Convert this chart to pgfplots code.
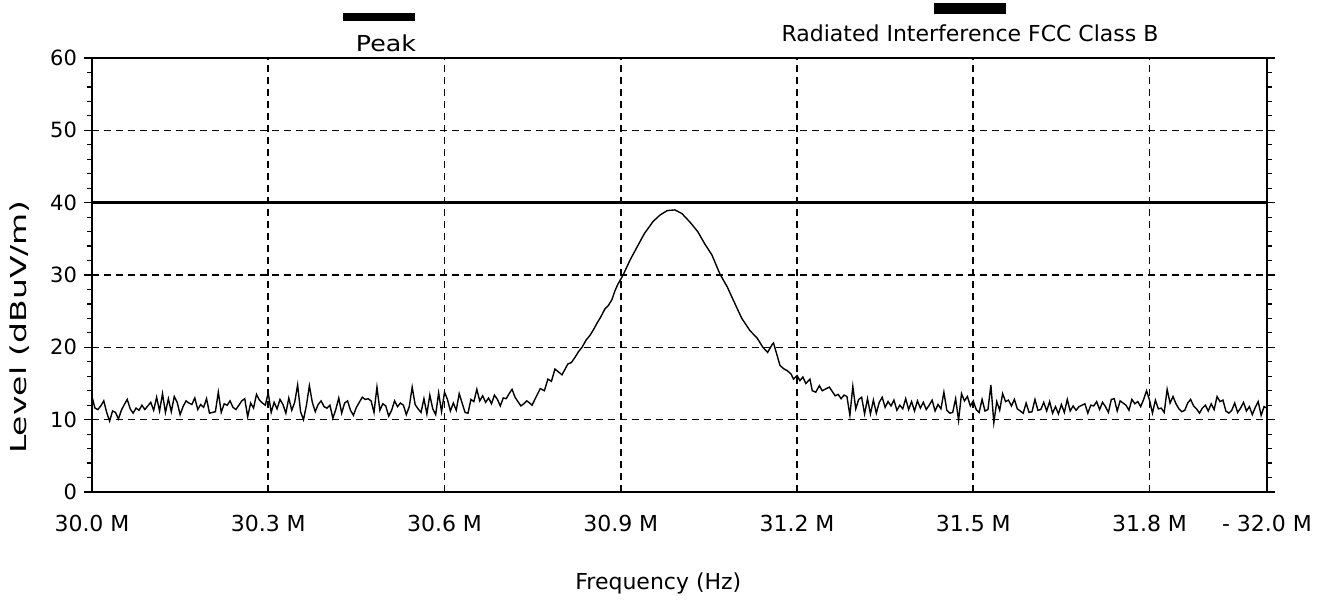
\documentclass[border=0pt]{standalone}
\usepackage{pgfplots}
\pgfplotsset{compat=1.18}
\usepackage{graphicx}
\usepackage{fontspec}
\setmainfont{DejaVu Sans}
\begin{document}
\begin{tikzpicture}
\begin{axis}[
  scale only axis, width=587.5pt, height=217pt,
  xmin=30, xmax=32, ymin=0, ymax=60,
  xtick={30,30.3,30.6,30.9,31.2,31.5,31.8,32},
  xticklabels={30.0 M,30.3 M,30.6 M,30.9 M,31.2 M,31.5 M,31.8 M,{-\ 32.0 M}},
  ytick={0,10,20,30,40,50,60},
  yticklabels={0,10,20,30,40,50,60},
  minor y tick num=4,
  tick align=outside,
  major tick length=4pt, minor tick length=2.5pt,
  xtick style={draw=none},
  tick style={black, line width=0.6pt},
  ymajorgrids, xmajorgrids,
  major grid style={black, line width=0.8pt, dash pattern=on 3.5pt off 2.5pt},
  axis line style={black, line width=1pt},
  ticklabel style={font=\fontsize{11}{13}\selectfont},
  yticklabel style={font=\fontsize{10.5}{13}\selectfont},
  xticklabel style={yshift=-4pt},
  xlabel={Frequency (Hz)},
  xlabel style={font=\fontsize{11}{13}\selectfont, at={(axis description cs:0.482,-0.21)}, anchor=center},
  ylabel={\scalebox{1.5}[1]{Level (dBuV/m)}},
  ylabel style={font=\fontsize{11}{13}\selectfont, at={(axis description cs:-0.0613,0.38)}, anchor=center},
  clip=false,
]
% limit line
\addplot[black, line width=1.8pt] coordinates {(30,40) (32,40)};
% measured trace
\addplot[black, line width=0.7pt] coordinates {
(30.000,13.2) (30.005,11.6) (30.010,11.4) (30.015,11.9) (30.020,12.6) (30.025,11.0) (30.030,9.8) (30.035,11.2) (30.040,11.0) (30.045,10.1)
(30.050,11.3) (30.055,12.1) (30.060,12.8) (30.065,11.5) (30.070,10.9) (30.075,11.6) (30.080,11.3) (30.085,12.0) (30.090,11.4) (30.095,11.9)
(30.100,12.4) (30.105,11.3) (30.110,13.1) (30.115,11.2) (30.120,13.6) (30.125,11.0) (30.130,12.9) (30.135,11.1) (30.140,13.2) (30.145,12.4)
(30.150,10.7) (30.155,11.8) (30.160,12.6) (30.165,12.3) (30.170,12.1) (30.175,13.0) (30.180,11.4) (30.185,12.1) (30.190,11.7) (30.195,12.9)
(30.200,10.9) (30.205,11.0) (30.210,11.1) (30.215,13.8) (30.220,11.0) (30.225,12.2) (30.230,12.0) (30.235,12.6) (30.240,11.7) (30.245,11.4)
(30.250,12.0) (30.255,12.6) (30.260,12.9) (30.265,10.4) (30.270,12.3) (30.275,11.6) (30.280,13.5) (30.285,12.7) (30.290,12.3) (30.295,12.0)
(30.300,13.7) (30.305,11.0) (30.310,12.4) (30.315,11.5) (30.320,12.8) (30.325,12.1) (30.330,10.9) (30.335,13.0) (30.340,11.3) (30.345,12.4)
(30.350,14.8) (30.355,11.1) (30.360,10.0) (30.365,12.0) (30.370,14.7) (30.375,12.4) (30.380,11.1) (30.385,12.1) (30.390,12.6) (30.395,11.8)
(30.400,11.6) (30.405,12.0) (30.410,10.2) (30.415,11.4) (30.420,13.0) (30.425,10.9) (30.430,12.3) (30.435,12.6) (30.440,11.3) (30.445,10.6)
(30.450,11.7) (30.455,12.4) (30.460,13.1) (30.465,12.8) (30.470,12.9) (30.475,12.6) (30.480,11.0) (30.485,14.5) (30.490,11.3) (30.495,12.2)
(30.500,11.9) (30.505,10.5) (30.510,11.3) (30.515,12.6) (30.520,11.8) (30.525,12.3) (30.530,12.0) (30.535,10.7) (30.540,11.8) (30.545,14.5)
(30.550,12.1) (30.555,11.5) (30.560,11.0) (30.565,12.9) (30.570,10.8) (30.575,13.4) (30.580,11.5) (30.585,10.7) (30.590,13.7) (30.595,11.1)
(30.600,13.8) (30.605,12.8) (30.610,11.2) (30.615,12.3) (30.620,11.3) (30.625,13.6) (30.630,12.3) (30.635,11.0) (30.640,10.9) (30.645,12.8)
(30.650,12.5) (30.655,14.2) (30.660,12.6) (30.665,13.3) (30.670,12.4) (30.675,13.0) (30.680,12.2) (30.685,13.4) (30.690,12.8) (30.695,11.9)
(30.700,13.0) (30.705,12.9) (30.710,13.6) (30.715,14.2) (30.720,13.1) (30.725,12.5) (30.730,11.9) (30.735,12.2) (30.740,12.6) (30.745,12.3)
(30.749,12.0) (30.755,13.0) (30.763,14.3) (30.770,14.0) (30.776,15.6) (30.782,15.3) (30.788,17.0) (30.794,16.6) (30.800,16.2) (30.806,17.1)
(30.810,17.7) (30.816,17.9) (30.822,18.6) (30.828,19.4) (30.834,20.0) (30.841,21.0) (30.848,21.7) (30.854,22.5) (30.860,23.4) (30.866,24.2)
(30.873,25.3) (30.879,25.8) (30.885,26.6) (30.890,27.8) (30.895,28.7) (30.904,30.0) (30.916,32.1) (30.928,33.9) (30.940,35.7) (30.955,37.4)
(30.967,38.3) (30.979,38.9) (30.992,39.0) (31.004,38.5) (31.018,37.3) (31.031,36.0) (31.043,34.3) (31.055,32.8) (31.069,30.1) (31.081,28.4)
(31.094,26.1) (31.106,24.0) (31.120,22.3) (31.132,21.3) (31.142,20.0) (31.150,19.3) (31.157,20.3) (31.160,20.6) (31.165,19.2) (31.171,17.5)
(31.178,17.0) (31.183,16.8) (31.190,16.3) (31.194,15.6) (31.200,16.1) (31.205,15.4) (31.210,15.9) (31.215,15.0) (31.222,15.6) (31.226,14.0)
(31.232,13.8) (31.238,14.7) (31.243,14.0) (31.250,14.3)
(31.255,14.5) (31.260,13.9) (31.265,13.3) (31.270,13.5) (31.275,12.9) (31.280,13.4) (31.285,13.2) (31.290,10.6) (31.295,14.6) (31.300,11.5)
(31.305,12.8) (31.310,13.1) (31.315,10.8) (31.320,12.9) (31.325,10.8) (31.330,12.7) (31.335,10.9) (31.340,12.4) (31.345,13.1) (31.350,11.7)
(31.355,12.5) (31.360,11.9) (31.365,12.7) (31.370,11.3) (31.375,12.0) (31.380,11.5) (31.385,12.9) (31.390,11.4) (31.395,12.5) (31.400,11.2)
(31.405,12.6) (31.410,11.6) (31.415,12.4) (31.420,11.4) (31.425,12.0) (31.430,12.7) (31.435,11.2) (31.440,12.1) (31.445,11.5) (31.450,13.8)
(31.455,11.3) (31.460,10.9) (31.465,11.0) (31.470,12.9) (31.475,9.9) (31.480,13.6) (31.485,12.6) (31.490,13.2) (31.495,11.9) (31.500,12.6)
(31.505,11.4) (31.510,11.0) (31.515,12.8) (31.520,11.2) (31.525,11.4) (31.530,14.8) (31.535,9.6) (31.540,12.5) (31.545,11.3) (31.550,13.6)
(31.555,12.5) (31.560,12.7) (31.565,11.9) (31.570,12.8) (31.575,11.5) (31.580,11.2) (31.585,10.9) (31.590,12.3) (31.595,11.0) (31.600,11.1)
(31.605,12.8) (31.610,11.3) (31.615,11.4) (31.620,12.4) (31.625,11.2) (31.630,12.5) (31.635,10.9) (31.640,11.8) (31.645,10.8) (31.650,12.1)
(31.655,11.0) (31.660,12.8) (31.665,11.2) (31.670,11.9) (31.675,11.3) (31.680,11.8) (31.685,12.0) (31.690,12.2) (31.695,10.9) (31.700,12.0)
(31.705,11.9) (31.710,12.5) (31.715,11.4) (31.720,12.4) (31.725,11.8) (31.730,11.0) (31.735,12.8) (31.740,12.9) (31.745,11.2) (31.750,12.6)
(31.755,12.3) (31.760,12.0) (31.765,11.3) (31.770,12.8) (31.775,12.2) (31.780,12.5) (31.785,11.8) (31.790,12.8) (31.795,14.0) (31.800,12.7)
(31.805,10.9) (31.810,12.7) (31.815,11.5) (31.820,11.6) (31.825,11.0) (31.830,14.2) (31.835,12.3) (31.840,13.2) (31.845,12.2) (31.850,11.5)
(31.855,11.1) (31.860,11.3) (31.865,12.3) (31.870,12.8) (31.875,11.9) (31.880,11.5) (31.885,10.9) (31.890,11.6) (31.895,12.0) (31.900,11.2)
(31.905,12.2) (31.910,11.4) (31.915,13.2) (31.920,12.5) (31.925,12.7) (31.930,11.2) (31.935,10.9) (31.940,11.3) (31.945,12.3) (31.950,11.0)
(31.955,11.6) (31.960,12.4) (31.965,11.2) (31.970,11.8) (31.975,10.7) (31.980,11.7) (31.985,12.5) (31.990,10.6) (31.995,11.8) (32.000,11.6)
};
\end{axis}
% legend
\fill[black] (125.5pt,235.5pt) rectangle (161.5pt,239.5pt);
\node[font=\fontsize{11}{13}\selectfont, anchor=center] at (147pt,224.5pt) {\scalebox{1.15}[1]{Peak}};
\fill[black] (421pt,239pt) rectangle (457pt,244.5pt);
\node[font=\fontsize{11}{13}\selectfont, anchor=center] at (439pt,229.5pt) {Radiated Interference FCC Class B};
% canvas
\path (-46pt,-52.5pt) rectangle (614pt,246pt);
\end{tikzpicture}
\end{document}
